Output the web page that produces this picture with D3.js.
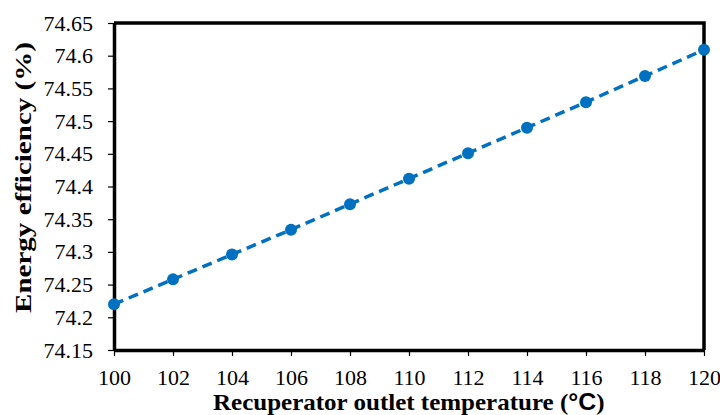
<!DOCTYPE html>
<html>
<head>
<meta charset="utf-8">
<script src="https://cdn.jsdelivr.net/npm/d3@7"></script>
<style>
  body { margin: 0; background: #fff; }
</style>
</head>
<body>
<div id="chart"></div>
<script>
// data
const temps = [100, 102, 104, 106, 108, 110, 112, 114, 116, 118, 120];
const efficiency = [74.22, 74.258, 74.296, 74.334, 74.373, 74.412, 74.451, 74.49, 74.529, 74.569, 74.609];
const yTicks = [74.15, 74.2, 74.25, 74.3, 74.35, 74.4, 74.45, 74.5, 74.55, 74.6, 74.65];

const w = 720, h = 415;
const margin = { top: 23, right: 16, bottom: 65, left: 114 };
const blue = "#0070C0";
const serif = "'Liberation Serif', 'Times New Roman', 'DejaVu Serif', serif";

let svg = d3.select("#chart")
  .append("svg")
  .attr("width", w)
  .attr("height", h);

let x = d3.scaleLinear().domain([100, 120]).range([margin.left, w - margin.right]);
let y = d3.scaleLinear().domain([74.15, 74.65]).range([h - margin.bottom, margin.top]);

// x axis
let xAxis = svg.append("g")
  .attr("transform", `translate(0,${h - margin.bottom})`)
  .call(d3.axisBottom(x).tickValues(temps).tickSize(6).tickSizeOuter(0).tickFormat(d3.format("d")));
xAxis.attr("font-family", serif).attr("font-size", 22);
xAxis.select(".domain").attr("stroke-width", 3.5);
xAxis.selectAll(".tick line").attr("stroke-width", 1.2);
xAxis.selectAll(".tick text").attr("y", 19).attr("dy", "0.71em").attr("fill", "#000");

// y axis
let yAxis = svg.append("g")
  .attr("transform", `translate(${margin.left},0)`)
  .call(d3.axisLeft(y).tickValues(yTicks).tickSize(6).tickSizeOuter(0).tickFormat(d => String(+d.toFixed(2))));
yAxis.attr("font-family", serif).attr("font-size", 22);
yAxis.select(".domain").attr("stroke-width", 3.5);
yAxis.selectAll(".tick line").attr("stroke-width", 1.2);
yAxis.selectAll(".tick text").attr("x", -21).attr("fill", "#000");

// top and right border
svg.append("path")
  .attr("d", `M${x(100)},${y(74.65)}H${x(120)}V${y(74.15)}`)
  .attr("fill", "none")
  .attr("stroke", "#000")
  .attr("stroke-width", 3.5);

// dashed line
let line = d3.line()
  .x((d, i) => x(temps[i]))
  .y(d => y(d));

svg.append("path")
  .datum(efficiency)
  .attr("d", line)
  .attr("fill", "none")
  .attr("stroke", blue)
  .attr("stroke-width", 3.5)
  .attr("stroke-dasharray", "10,6");

svg.selectAll("circle.pt")
  .data(efficiency)
  .enter()
  .append("circle")
  .attr("class", "pt")
  .attr("cx", (d, i) => x(temps[i]))
  .attr("cy", d => y(d))
  .attr("r", 6)
  .attr("fill", blue);

// axis titles
let xt = svg.append("text")
  .attr("x", 213)
  .attr("y", 410)
  .attr("font-family", serif)
  .attr("font-size", 23)
  .attr("font-weight", "bold");
xt.append("tspan").text("Recuperator outlet temperature (");
xt.append("tspan").attr("font-family", "'Liberation Sans', Arial, sans-serif").text("°C");
xt.append("tspan").text(")");
// stretch to the width seen in the picture
let xtLen = xt.node().getComputedTextLength();
if (xtLen > 0) xt.attr("transform", `translate(213,0) scale(${392 / xtLen},1) translate(-213,0)`);

let yt = svg.append("text")
  .attr("transform", `translate(31,177.5) rotate(-90)`)
  .attr("text-anchor", "middle")
  .attr("font-family", serif)
  .attr("font-size", 23)
  .attr("font-weight", "bold")
  .text("Energy efficiency (%)");
let ytLen = yt.node().getComputedTextLength();
if (ytLen > 0) yt.attr("transform", `translate(31,177.5) rotate(-90) scale(${271 / ytLen},1)`);
</script>
</body>
</html>
